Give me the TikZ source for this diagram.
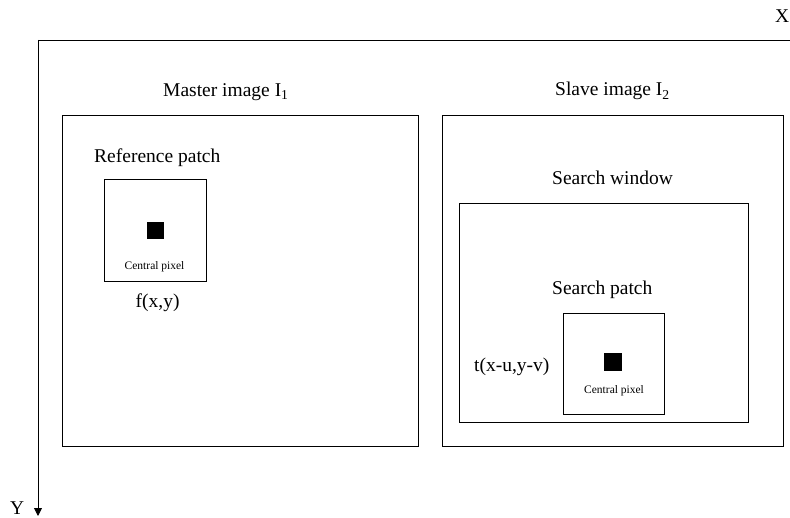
\documentclass[tikz,border=0pt]{standalone}
\usepackage{fontspec}
\setmainfont{Liberation Serif}
\usetikzlibrary{arrows.meta}
\tikzset{
  frame/.style={draw, line width=0.9pt, inner sep=0pt, anchor=north west},
  pixel/.style={fill=black, inner sep=0pt, minimum size=18pt},
  label/.style={inner sep=0pt, anchor=base west, font=\fontsize{19.5}{23}\selectfont},
  small/.style={inner sep=0pt, anchor=base west, font=\fontsize{11.5}{14}\selectfont},
  axis/.style={line width=0.9pt},
}
\begin{document}
\begin{tikzpicture}[x=1pt, y=-1pt]
\useasboundingbox (0,0) rectangle (790,518);

% axes
\coordinate (O) at (38,40);
\coordinate (xend) at (792,40);
\coordinate (yend) at (38,516);
\draw[axis] (xend) -- (O);
\draw[axis, -{Triangle[width=8pt,length=8pt]}] (O) -- (yend);
\node[label] (xlab) at (775,23) {X};
\node[label] (ylab) at (10,514) {Y};

% master image
\node[frame, minimum width=356pt, minimum height=331pt] (master) at (62,115) {};
\node[label] (mastert) at (163,96.5) {Master image I\textsubscript{1}};
\node[label] (reft) at (94,163) {Reference patch};
\node[frame, minimum width=102pt, minimum height=102pt] (ref) at (104,179) {};
\node[pixel, minimum size=17pt] (refpx) at (155,231) {};
\node[small] (refcp) at (124.5,270) {Central pixel};
\node[label] (fxy) at (135.5,308) {f(x,y)};

% slave image
\node[frame, minimum width=341pt, minimum height=331pt] (slave) at (442,115) {};
\node[label] (slavet) at (555,96) {Slave image I\textsubscript{2}};
\node[label] (swt) at (552,184.3) {Search window};
\node[frame, minimum width=289pt, minimum height=219pt] (sw) at (459,203) {};
\node[label] (spt) at (552,294.3) {Search patch};
\node[frame, minimum width=101pt, minimum height=101pt] (sp) at (563,313) {};
\node[pixel] (sppx) at (613,362) {};
\node[small] (spcp) at (584,394) {Central pixel};
\node[label] (txy) at (474,372) {t(x-u,y-v)};
\end{tikzpicture}
\end{document}
